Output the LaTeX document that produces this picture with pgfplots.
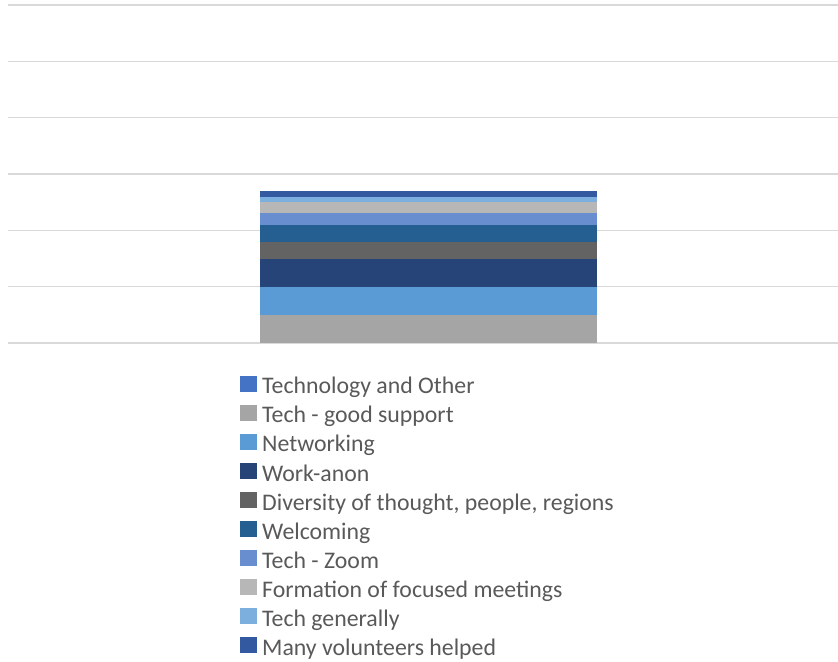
\documentclass[border=0pt]{standalone}
\usepackage{fontspec}
\setmainfont{Carlito}
\usepackage{pgfplots}
\pgfplotsset{compat=1.18}
\definecolor{cA}{HTML}{4472C4}
\definecolor{cB}{HTML}{A5A5A5}
\definecolor{cC}{HTML}{5B9BD5}
\definecolor{cD}{HTML}{264478}
\definecolor{cE}{HTML}{636363}
\definecolor{cF}{HTML}{255E91}
\definecolor{cG}{HTML}{698ED0}
\definecolor{cH}{HTML}{B7B7B7}
\definecolor{cI}{HTML}{7CAFDD}
\definecolor{cJ}{HTML}{335AA1}
\definecolor{txt}{HTML}{595959}
\definecolor{grd}{HTML}{D9D9D9}
\begin{document}
\begin{tikzpicture}
\begin{axis}[
  scale only axis, width=830bp, height=338bp,
  xmin=0, xmax=830, ymin=0, ymax=60,
  axis line style={draw=none}, tick style={draw=none},
  xtick=\empty, ytick={0,10,20,30,40,50,60}, yticklabels={},
  ymajorgrids, grid style={color=grd, line width=1.2bp},
  ybar stacked, bar width=337bp,
  legend cell align=left,
  legend image code/.code={\fill[#1] (0bp,-5.7bp) rectangle (17bp,10.3bp);},
  legend style={at={(axis description cs:0.2795,-0.0837)}, anchor=north west,
    draw=none, fill=none, inner sep=0pt, row sep=-0.38bp, column sep=5bp,
    font=\fontsize{23.8bp}{29.44bp}\selectfont, text=txt,
    nodes={inner sep=0pt, text height=22.37bp, text depth=7.07bp}},
]
\addplot[fill=cA, draw=none] coordinates {(420.5,0)};
\addplot[fill=cB, draw=none] coordinates {(420.5,5)};
\addplot[fill=cC, draw=none] coordinates {(420.5,5)};
\addplot[fill=cD, draw=none] coordinates {(420.5,5)};
\addplot[fill=cE, draw=none] coordinates {(420.5,3)};
\addplot[fill=cF, draw=none] coordinates {(420.5,3)};
\addplot[fill=cG, draw=none] coordinates {(420.5,2)};
\addplot[fill=cH, draw=none] coordinates {(420.5,2)};
\addplot[fill=cI, draw=none] coordinates {(420.5,1)};
\addplot[fill=cJ, draw=none] coordinates {(420.5,1)};
\legend{Technology and Other, Tech - good support, Networking, Work-anon, {Diversity of thought, people, regions}, Welcoming, Tech - Zoom, Formation of focused meetings, Tech generally, Many volunteers helped}
\coordinate (O) at (rel axis cs:0,0);
\end{axis}
\pgfresetboundingbox
\path[use as bounding box] (O) ++(-8bp,-319bp) rectangle ++(838bp,662bp);
\end{tikzpicture}
\end{document}
